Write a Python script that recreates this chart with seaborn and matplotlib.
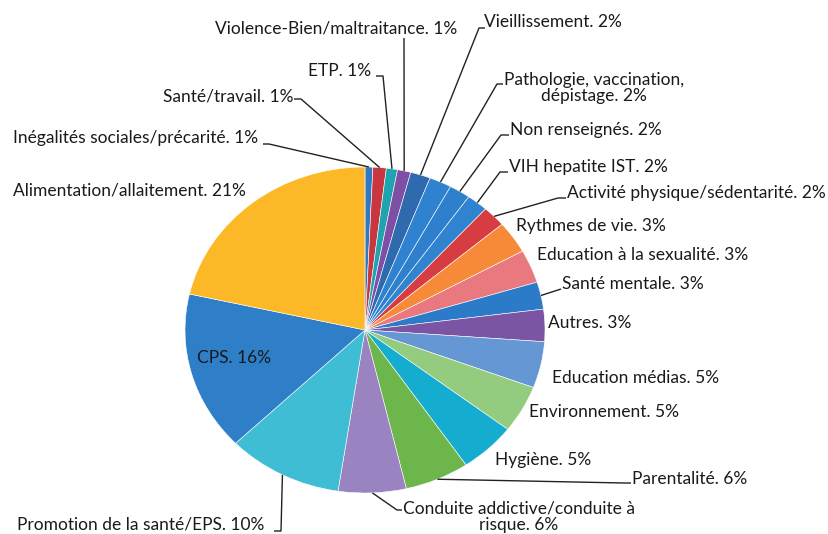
import matplotlib
matplotlib.use("Agg")
import matplotlib.pyplot as plt
import seaborn as sns
import numpy as np

# ---- data ----
categories = [
    "Inégalités sociales/précarité", "Santé/travail", "ETP",
    "Violence-Bien/maltraitance", "Vieillissement",
    "Pathologie, vaccination,\ndépistage", "Non renseignés", "VIH hepatite IST",
    "Activité physique/sédentarité", "Rythmes de vie", "Education à la sexualité",
    "Santé mentale", "Autres", "Education médias", "Environnement", "Hygiène",
    "Parentalité", "Conduite addictive/conduite à\nrisque",
    "Promotion de la santé/EPS", "CPS", "Alimentation/allaitement",
]
values = [0.7, 1.2, 1.0, 1.2, 1.8, 2.0, 1.9, 1.9, 2.1, 3.2, 3.3, 2.7, 3.2,
          4.6, 4.7, 5.1, 5.8, 6.1, 10.4, 15.8, 21.5]
shown_pct = [1, 1, 1, 1, 2, 2, 2, 2, 2, 3, 3, 3, 3, 5, 5, 5, 6, 6, 10, 16, 21]
colors = ["#2F78C4", "#C8373F", "#1FA3B0", "#7E4FA5", "#2F6AAE", "#2F82D0",
          "#2E7FCC", "#3083CF", "#D63C42", "#F68A38", "#E9797F", "#2C7BC9",
          "#7B55A4", "#6497D4", "#93CB7F", "#14ADCF", "#6CB64B", "#9A83C1",
          "#3FBDD4", "#2E7EC8", "#FDB827"]

# ---- layout (pixel positions of labels and leader elbows) ----
label_pos = [
    (13, 138, "left"), (163, 96, "left"), (308, 71, "left"), (215, 29, "left"),
    (484, 22, "left"), (594, 88, "center"), (510, 130, "left"), (509, 167, "left"),
    (567, 193, "left"), (516, 226, "left"), (537, 255, "left"), (562, 284, "left"),
    (548, 323, "left"), (552, 378, "left"), (529, 412, "left"), (495, 460, "left"),
    (632, 479, "left"), (519, 517, "center"), (17, 525, "left"), (197, 358, "left"),
    (13, 191, "left"),
]
leaders = {
    0: [(263, 144), (269, 144)],
    1: [(294, 99), (301, 99)],
    2: [(376, 76), (383, 76)],
    3: [(404, 38)],
    4: [(485, 28), (479, 28)],
    5: [(503, 84), (497, 84)],
    6: [(509, 135), (501, 135)],
    7: [(508, 172), (500, 172)],
    8: [(566, 198), (558, 198)],
    11: [(561, 289)],
    16: [(631, 483), (624, 483)],
    17: [(402, 510), (397, 510)],
    18: [(274, 531), (281, 531)],
}

sns.set_theme(style="white")
plt.rcParams['font.family'] = ['Lato', 'DejaVu Sans']

W, H = 829, 534
fig = plt.figure(figsize=(W / 100, H / 100), dpi=100)
fig.patch.set_facecolor("white")
ax = fig.add_axes([0, 0, 1, 1])
CX, CY, RX, RY = 365, 330, 180, 163

wedges, _ = ax.pie(values, colors=colors, startangle=90, counterclock=False,
                   radius=1, wedgeprops=dict(edgecolor="white", linewidth=0.4))
ax.set_aspect("auto")
ax.set_xlim(-CX / RX, (W - CX) / RX)
ax.set_ylim(-(H - CY) / RY, CY / RY)
ax.axis("off")


def to_data(px, py):
    return ((px - CX) / RX, (CY - py) / RY)


for i, (name, pct) in enumerate(zip(categories, shown_pct)):
    x, y, ha = label_pos[i]
    dx, dy = to_data(x, y)
    ax.text(dx, dy, f"{name}. {pct}%", ha=ha, va="center", multialignment="center",
            fontsize=12.5, color="#1a1a1a", linespacing=1.0)
    if i in leaders:
        w = wedges[i]
        th = np.deg2rad((w.theta1 + w.theta2) / 2)
        pts = [to_data(px, py) for px, py in leaders[i]] + [(np.cos(th), np.sin(th))]
        xs, ys = zip(*pts)
        ax.plot(xs, ys, color="#222222", lw=1.0, solid_capstyle="butt")

fig.savefig("out.png", dpi=100, facecolor="white")
